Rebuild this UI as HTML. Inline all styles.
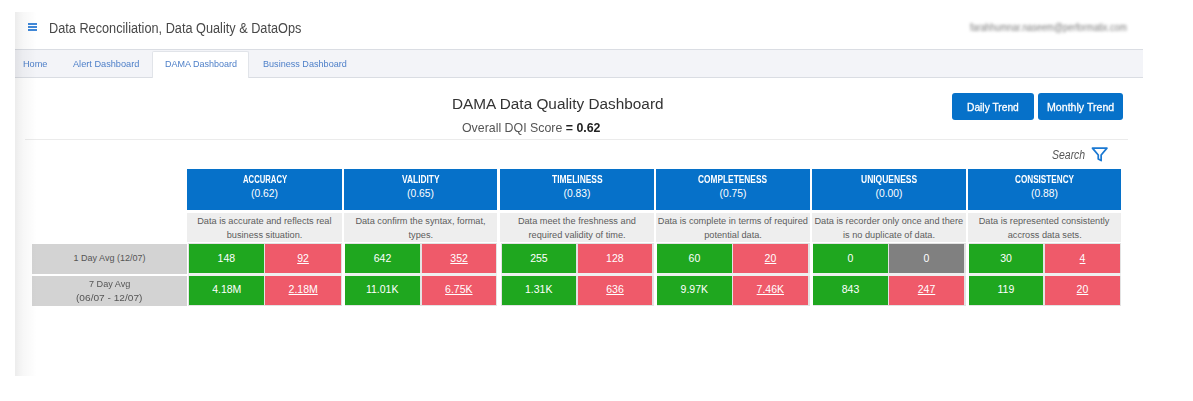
<!DOCTYPE html>
<html><head><meta charset="utf-8"><title>DAMA Dashboard</title>
<style>
html,body{margin:0;padding:0;background:#fff;}
body{width:1193px;height:401px;overflow:hidden;position:relative;font-family:"Liberation Sans",sans-serif;}
.r{position:absolute;}
.t{position:absolute;white-space:nowrap;line-height:1;transform-origin:0 0;}
.shade{position:absolute;left:15px;top:12px;width:24px;height:364px;background:linear-gradient(to right,rgba(0,0,0,0.075),rgba(0,0,0,0.03) 8px,rgba(0,0,0,0) 22px);pointer-events:none;}
</style></head><body>
<header class="topbar">
<div class="r" style="left:28px;top:23px;width:9px;height:2px;background:#4088d8;"></div><div class="r" style="left:28px;top:26px;width:9px;height:2px;background:#4088d8;"></div><div class="r" style="left:28px;top:29px;width:9px;height:2px;background:#4088d8;"></div>
<span class="t" style="left:48.78px;top:21.10px;font-size:14px;color:#484848;transform:scaleX(0.9083);">Data Reconciliation, Data Quality &amp; DataOps</span><span class="t" style="left:970.20px;top:21.80px;font-size:11px;color:#7a7a7a;transform:scaleX(0.8083);filter:blur(1.7px);">farahhumnar.naseem@performatix.com</span>
</header>
<nav class="tabs">
<div class="r" style="left:15px;top:49px;width:1128px;height:29px;background:#f3f4f8;border-top:1px solid #dadde3;border-bottom:1px solid #dadde3;box-sizing:border-box;"></div><div class="r" style="left:152px;top:51px;width:97px;height:27px;background:#fff;border:1px solid #e1e4e9;border-bottom:none;border-radius:2px 2px 0 0;box-sizing:border-box;"></div>
<span class="t" style="left:22.80px;top:59.00px;font-size:9.8px;color:#4d7fc8;transform:scaleX(0.9360);">Home</span><span class="t" style="left:73.38px;top:59.00px;font-size:9.8px;color:#4d7fc8;transform:scaleX(0.9371);">Alert Dashboard</span><span class="t" style="left:164.81px;top:59.00px;font-size:9.8px;color:#4d7fc8;transform:scaleX(0.9195);">DAMA Dashboard</span><span class="t" style="left:262.50px;top:59.00px;font-size:9.8px;color:#4d7fc8;transform:scaleX(0.9270);">Business Dashboard</span>
</nav>
<section class="page-title">
<div class="r" style="left:25px;top:139px;width:1103px;height:1px;background:#ebebeb;"></div>
<span class="t" style="left:452.45px;top:96.10px;font-size:15.3px;color:#333;transform:scaleX(1.0032);">DAMA Data Quality Dashboard</span><span class="t" style="left:461.81px;top:121.20px;font-size:13px;color:#555;transform:scaleX(0.9509);">Overall DQI Score <b style="color:#222">= 0.62</b></span>
</section>
<div class="actions">
<div class="r" style="left:951.5px;top:93px;width:82.5px;height:27px;background:#0671c9;border-radius:3px;"></div><div class="r" style="left:1037.7px;top:93px;width:85.29999999999995px;height:27px;background:#0671c9;border-radius:3px;"></div>
<span class="t" style="left:967.11px;top:102.00px;font-size:11.5px;color:#fff;transform:scaleX(0.8905);-webkit-text-stroke:0.3px #fff;">Daily Trend</span><span class="t" style="left:1046.68px;top:102.00px;font-size:11.5px;color:#fff;transform:scaleX(0.9223);-webkit-text-stroke:0.3px #fff;">Monthly Trend</span>
</div>
<div class="search">
<svg class="r" style="left:1091.3px;top:145.6px;width:17.4px;height:17.4px" viewBox="0 0 24 24" fill="none" stroke="#1a78d2" stroke-width="2.4" stroke-linejoin="round" stroke-linecap="round"><polygon points="22 3 2 3 10 12.46 10 18 14 20 14 12.46 22 3"/></svg>
<span class="t" style="left:1052.47px;top:148.70px;font-size:12px;font-style:italic;color:#555;transform:scaleX(0.8727);">Search</span>
</div>
<div class="dq-table">
<div class="r" style="left:187px;top:169px;width:155px;height:41px;background:#0671c9;"></div><div class="r" style="left:187px;top:213px;width:155px;height:29px;background:#eeeeee;"></div><div class="r" style="left:188px;top:243px;width:154px;height:63px;background:#e3e3e3;"></div><div class="r" style="left:188px;top:273px;width:154px;height:3px;background:#eef0f0;"></div><div class="r" style="left:344px;top:169px;width:153px;height:41px;background:#0671c9;"></div><div class="r" style="left:344px;top:213px;width:153px;height:29px;background:#eeeeee;"></div><div class="r" style="left:345px;top:243px;width:152px;height:63px;background:#e3e3e3;"></div><div class="r" style="left:345px;top:273px;width:152px;height:3px;background:#eef0f0;"></div><div class="r" style="left:500px;top:169px;width:154px;height:41px;background:#0671c9;"></div><div class="r" style="left:500px;top:213px;width:154px;height:29px;background:#eeeeee;"></div><div class="r" style="left:501px;top:243px;width:153px;height:63px;background:#e3e3e3;"></div><div class="r" style="left:501px;top:273px;width:153px;height:3px;background:#eef0f0;"></div><div class="r" style="left:656px;top:169px;width:154px;height:41px;background:#0671c9;"></div><div class="r" style="left:656px;top:213px;width:154px;height:29px;background:#eeeeee;"></div><div class="r" style="left:657px;top:243px;width:153px;height:63px;background:#e3e3e3;"></div><div class="r" style="left:657px;top:273px;width:153px;height:3px;background:#eef0f0;"></div><div class="r" style="left:812px;top:169px;width:154px;height:41px;background:#0671c9;"></div><div class="r" style="left:812px;top:213px;width:154px;height:29px;background:#eeeeee;"></div><div class="r" style="left:813px;top:243px;width:153px;height:63px;background:#e3e3e3;"></div><div class="r" style="left:813px;top:273px;width:153px;height:3px;background:#eef0f0;"></div><div class="r" style="left:968px;top:169px;width:153px;height:41px;background:#0671c9;"></div><div class="r" style="left:968px;top:213px;width:153px;height:29px;background:#eeeeee;"></div><div class="r" style="left:969px;top:243px;width:152px;height:63px;background:#e3e3e3;"></div><div class="r" style="left:969px;top:273px;width:152px;height:3px;background:#eef0f0;"></div><div class="r" style="left:32px;top:244px;width:155px;height:30px;background:#d3d3d3;"></div><div class="r" style="left:32px;top:276px;width:155px;height:30px;background:#d3d3d3;"></div><div class="r" style="left:189px;top:244px;width:75px;height:29px;background:#1fa71f;"></div><div class="r" style="left:265px;top:244px;width:76px;height:29px;background:#ef5a6a;"></div><div class="r" style="left:189px;top:276px;width:75px;height:29px;background:#1fa71f;"></div><div class="r" style="left:265px;top:276px;width:76px;height:29px;background:#ef5a6a;"></div><div class="r" style="left:345px;top:244px;width:75px;height:29px;background:#1fa71f;"></div><div class="r" style="left:422px;top:244px;width:74px;height:29px;background:#ef5a6a;"></div><div class="r" style="left:345px;top:276px;width:75px;height:29px;background:#1fa71f;"></div><div class="r" style="left:422px;top:276px;width:74px;height:29px;background:#ef5a6a;"></div><div class="r" style="left:502px;top:244px;width:74px;height:29px;background:#1fa71f;"></div><div class="r" style="left:578px;top:244px;width:74px;height:29px;background:#ef5a6a;"></div><div class="r" style="left:502px;top:276px;width:74px;height:29px;background:#1fa71f;"></div><div class="r" style="left:578px;top:276px;width:74px;height:29px;background:#ef5a6a;"></div><div class="r" style="left:657px;top:244px;width:75px;height:29px;background:#1fa71f;"></div><div class="r" style="left:733px;top:244px;width:75px;height:29px;background:#ef5a6a;"></div><div class="r" style="left:657px;top:276px;width:75px;height:29px;background:#1fa71f;"></div><div class="r" style="left:733px;top:276px;width:75px;height:29px;background:#ef5a6a;"></div><div class="r" style="left:813px;top:244px;width:75px;height:29px;background:#1fa71f;"></div><div class="r" style="left:889px;top:244px;width:75px;height:29px;background:#808080;"></div><div class="r" style="left:813px;top:276px;width:75px;height:29px;background:#1fa71f;"></div><div class="r" style="left:889px;top:276px;width:75px;height:29px;background:#ef5a6a;"></div><div class="r" style="left:969px;top:244px;width:74px;height:29px;background:#1fa71f;"></div><div class="r" style="left:1045px;top:244px;width:75px;height:29px;background:#ef5a6a;"></div><div class="r" style="left:969px;top:276px;width:74px;height:29px;background:#1fa71f;"></div><div class="r" style="left:1045px;top:276px;width:75px;height:29px;background:#ef5a6a;"></div>
<span class="t" style="left:242.51px;top:174.90px;font-size:10px;font-weight:700;color:#fff;transform:scaleX(0.7718);">ACCURACY</span><span class="t" style="left:251.06px;top:189.40px;font-size:10.3px;color:#fff;">(0.62)</span><span class="t" style="left:197.19px;top:216.50px;font-size:9.2px;color:#5c5c5c;">Data is accurate and reflects real</span><span class="t" style="left:226.75px;top:230.80px;font-size:9.2px;color:#5c5c5c;">business situation.</span><span class="t" style="left:402.40px;top:174.90px;font-size:10px;font-weight:700;color:#fff;transform:scaleX(0.8382);">VALIDITY</span><span class="t" style="left:407.06px;top:189.40px;font-size:10.3px;color:#fff;">(0.65)</span><span class="t" style="left:355.38px;top:216.50px;font-size:9.2px;color:#5c5c5c;">Data confirm the syntax, format,</span><span class="t" style="left:408.56px;top:230.80px;font-size:9.2px;color:#5c5c5c;">types.</span><span class="t" style="left:551.79px;top:174.90px;font-size:10px;font-weight:700;color:#fff;transform:scaleX(0.8437);">TIMELINESS</span><span class="t" style="left:563.56px;top:189.40px;font-size:10.3px;color:#fff;">(0.83)</span><span class="t" style="left:517.88px;top:216.50px;font-size:9.2px;color:#5c5c5c;">Data meet the freshness and</span><span class="t" style="left:528.56px;top:230.80px;font-size:9.2px;color:#5c5c5c;">required validity of time.</span><span class="t" style="left:698.49px;top:174.90px;font-size:10px;font-weight:700;color:#fff;transform:scaleX(0.8341);">COMPLETENESS</span><span class="t" style="left:719.56px;top:189.40px;font-size:10.3px;color:#fff;">(0.75)</span><span class="t" style="left:657.75px;top:216.50px;font-size:9.2px;color:#5c5c5c;">Data is complete in terms of required</span><span class="t" style="left:704.19px;top:230.80px;font-size:9.2px;color:#5c5c5c;">potential data.</span><span class="t" style="left:860.57px;top:174.90px;font-size:10px;font-weight:700;color:#fff;transform:scaleX(0.8491);">UNIQUENESS</span><span class="t" style="left:875.56px;top:189.40px;font-size:10.3px;color:#fff;">(0.00)</span><span class="t" style="left:814.44px;top:216.50px;font-size:9.2px;color:#5c5c5c;">Data is recorder only once and there</span><span class="t" style="left:843.06px;top:230.80px;font-size:9.2px;color:#5c5c5c;">is no duplicate of data.</span><span class="t" style="left:1014.99px;top:174.90px;font-size:10px;font-weight:700;color:#fff;transform:scaleX(0.8168);">CONSISTENCY</span><span class="t" style="left:1031.06px;top:189.40px;font-size:10.3px;color:#fff;">(0.88)</span><span class="t" style="left:978.69px;top:216.50px;font-size:9.2px;color:#5c5c5c;">Data is represented consistently</span><span class="t" style="left:1007.69px;top:230.80px;font-size:9.2px;color:#5c5c5c;">accross data sets.</span><span class="t" style="left:73.56px;top:254.30px;font-size:9px;color:#555;">1 Day Avg (12/07)</span><span class="t" style="left:89.09px;top:279.90px;font-size:9px;color:#555;transform:scaleX(1.0138);">7 Day Avg</span><span class="t" style="left:76.34px;top:293.70px;font-size:9px;color:#555;transform:scaleX(1.1259);">(06/07 - 12/07)</span><span class="t" style="left:217.56px;top:252.70px;font-size:10.5px;color:#fff;">148</span><span class="t" style="left:297.19px;top:252.70px;font-size:10.5px;color:#fff;text-decoration:underline;">92</span><span class="t" style="left:212.19px;top:284.30px;font-size:10.5px;color:#fff;">4.18M</span><span class="t" style="left:288.56px;top:284.30px;font-size:10.5px;color:#fff;text-decoration:underline;">2.18M</span><span class="t" style="left:373.75px;top:252.70px;font-size:10.5px;color:#fff;">642</span><span class="t" style="left:450.31px;top:252.70px;font-size:10.5px;color:#fff;text-decoration:underline;">352</span><span class="t" style="left:365.94px;top:284.30px;font-size:10.5px;color:#fff;">11.01K</span><span class="t" style="left:445.12px;top:284.30px;font-size:10.5px;color:#fff;text-decoration:underline;">6.75K</span><span class="t" style="left:530.19px;top:252.70px;font-size:10.5px;color:#fff;">255</span><span class="t" style="left:606.06px;top:252.70px;font-size:10.5px;color:#fff;">128</span><span class="t" style="left:525.00px;top:284.30px;font-size:10.5px;color:#fff;">1.31K</span><span class="t" style="left:606.25px;top:284.30px;font-size:10.5px;color:#fff;text-decoration:underline;">636</span><span class="t" style="left:688.62px;top:252.70px;font-size:10.5px;color:#fff;">60</span><span class="t" style="left:764.62px;top:252.70px;font-size:10.5px;color:#fff;text-decoration:underline;">20</span><span class="t" style="left:680.62px;top:284.30px;font-size:10.5px;color:#fff;">9.97K</span><span class="t" style="left:756.62px;top:284.30px;font-size:10.5px;color:#fff;text-decoration:underline;">7.46K</span><span class="t" style="left:847.62px;top:252.70px;font-size:10.5px;color:#fff;">0</span><span class="t" style="left:923.62px;top:252.70px;font-size:10.5px;color:#fff;">0</span><span class="t" style="left:841.75px;top:284.30px;font-size:10.5px;color:#fff;">843</span><span class="t" style="left:917.75px;top:284.30px;font-size:10.5px;color:#fff;text-decoration:underline;">247</span><span class="t" style="left:1000.19px;top:252.70px;font-size:10.5px;color:#fff;">30</span><span class="t" style="left:1079.62px;top:252.70px;font-size:10.5px;color:#fff;text-decoration:underline;">4</span><span class="t" style="left:997.50px;top:284.30px;font-size:10.5px;color:#fff;">119</span><span class="t" style="left:1076.62px;top:284.30px;font-size:10.5px;color:#fff;text-decoration:underline;">20</span>
</div>

<div class="shade"></div>
</body></html>
